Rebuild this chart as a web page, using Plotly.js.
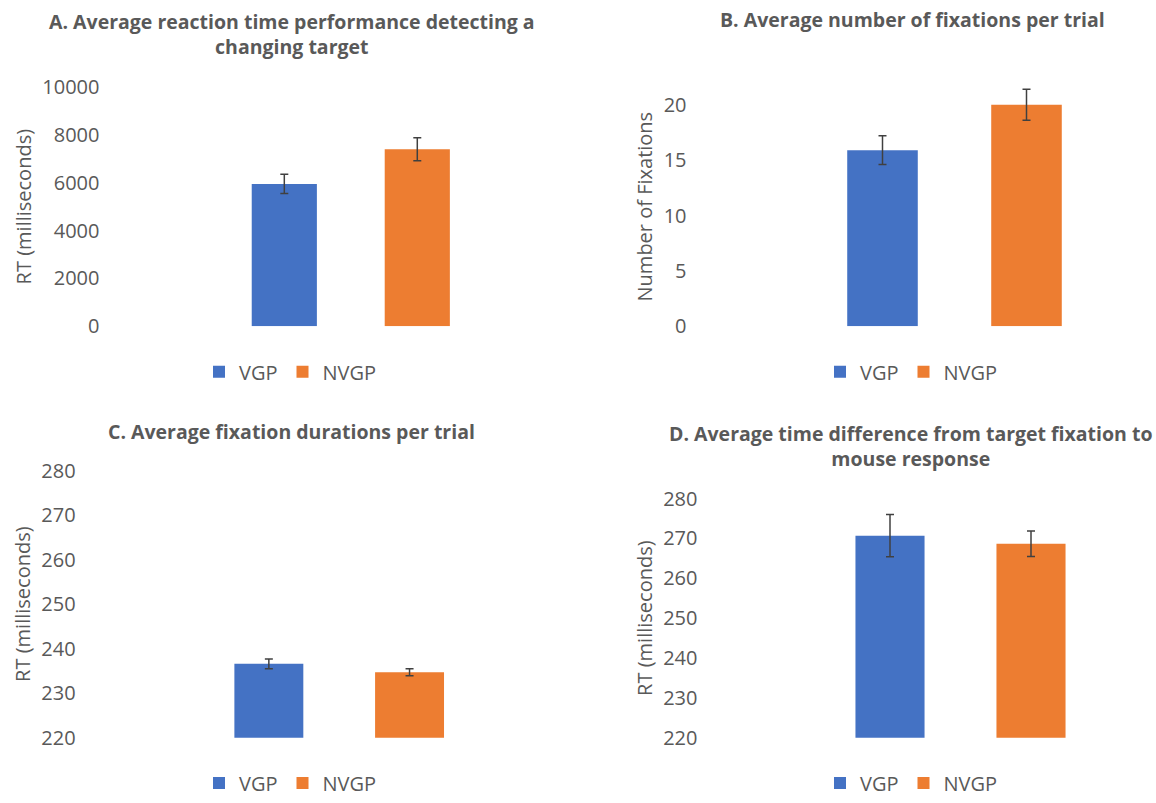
<!DOCTYPE html>
<html>
<head>
<meta charset="utf-8">
<script src="https://cdn.plot.ly/plotly-3.0.1.min.js"></script>
<style>html,body{margin:0;padding:0;background:#fff;}#chart{width:1156px;height:803px;}</style>
</head>
<body>
<div id="chart"></div>
<script>
// ---- data ----
const groups = ['VGP', 'NVGP'];
const category = [''];
// A. Average reaction time (ms)
const rtMean = [5950, 7400];
const rtErr = [400, 480];
// B. Average number of fixations per trial
const fixCount = [15.9, 20.0];
const fixCountErr = [1.3, 1.4];
// C. Average fixation durations per trial (ms)
const fixDur = [236.6, 234.7];
const fixDurErr = [1.1, 0.8];
// D. Average time difference from target fixation to mouse response (ms)
const respDiff = [270.7, 268.7];
const respDiffErr = [5.3, 3.2];

const panelTitles = [
  'A. Average reaction time performance detecting a<br>changing target',
  'B. Average number of fixations per trial',
  'C. Average fixation durations per trial',
  'D. Average time difference from target fixation to<br>mouse response'
];
const yTitles = ['RT (milliseconds)', 'Number of Fixations', 'RT (milliseconds)', 'RT (milliseconds)'];

// ---- styling ----
const W = 1156, H = 803;
const colors = ['#4472C4', '#ED7D31'];
const grey = '#595959';
const FONT = '"Open Sans", sans-serif';
const px = v => v / W;
const py = v => 1 - v / H;

const panels = [
  {means: rtMean, errs: rtErr},
  {means: fixCount, errs: fixCountErr},
  {means: fixDur, errs: fixDurErr},
  {means: respDiff, errs: respDiffErr}
];

const data = [];
panels.forEach((p, i) => {
  const suffix = i === 0 ? '' : String(i + 1);
  groups.forEach((g, j) => {
    data.push({
      type: 'bar',
      name: g,
      x: category,
      y: [p.means[j]],
      xaxis: 'x' + suffix,
      yaxis: 'y' + suffix,
      legend: 'legend' + suffix,
      marker: {color: colors[j]},
      error_y: {type: 'data', array: [p.errs[j]], visible: true, color: '#404040', thickness: 1.5, width: 4},
      hoverinfo: 'skip'
    });
  });
});

// geometry (pixels)
const geom = [
  {x0: 173.5, x1: 528.1, yTop: 88, yBot: 330, range: [0, 10000], dtick: 2000, stand: 73, legX: 199, legY: 376, titleX: 292, titleY: 34.5},
  {x0: 762.5, x1: 1146.5, yTop: 88, yBot: 330, range: [0, 21.6], dtick: 5, stand: 75, legX: 820, legY: 376, titleX: 912, titleY: 20},
  {x0: 151.6, x1: 526.8, yTop: 476, yBot: 746, range: [220, 280], dtick: 10, stand: 75, legX: 199, legY: 792, titleX: 291, titleY: 436},
  {x0: 772.5, x1: 1148.5, yTop: 504.3, yBot: 746, range: [220, 280], dtick: 10, stand: 74, legX: 820, legY: 792, titleX: 911, titleY: 451.5}
];

const layout = {
  width: W, height: H,
  margin: {l: 0, r: 0, t: 0, b: 0},
  paper_bgcolor: '#ffffff',
  plot_bgcolor: '#ffffff',
  font: {family: FONT, color: grey},
  barmode: 'group',
  bargap: 0.25,
  bargroupgap: 0.51,
  annotations: []
};

geom.forEach((g, i) => {
  const suffix = i === 0 ? '' : String(i + 1);
  layout['xaxis' + suffix] = {
    domain: [px(g.x0), px(g.x1)],
    anchor: 'y' + suffix,
    showticklabels: false, showline: false, showgrid: false, zeroline: false, ticks: '',
    fixedrange: true
  };
  layout['yaxis' + suffix] = {
    domain: [py(g.yBot), py(g.yTop)],
    anchor: 'x' + suffix,
    range: g.range,
    dtick: g.dtick,
    tick0: g.range[0],
    tickformat: 'd',
    showgrid: false, zeroline: false, showline: false, ticks: '',
    ticklabelstandoff: g.stand,
    tickfont: {family: FONT, size: 20, color: grey},
    title: {text: yTitles[i], font: {family: FONT, size: 20, color: grey}, standoff: 5},
    fixedrange: true
  };
  layout['legend' + suffix] = {
    orientation: 'h',
    x: px(g.legX), xanchor: 'left',
    y: py(g.legY), yanchor: 'middle',
    font: {family: FONT, size: 20, color: grey},
    bgcolor: 'rgba(0,0,0,0)'
  };
  layout.annotations.push({
    text: '<b>' + panelTitles[i] + '</b>',
    xref: 'paper', yref: 'paper',
    x: px(g.titleX), y: py(g.titleY),
    xanchor: 'center', yanchor: 'middle',
    showarrow: false,
    font: {family: FONT, size: 19.5, color: grey}
  });
});

Plotly.newPlot('chart', data, layout, {displayModeBar: false, staticPlot: true});
</script>
</body>
</html>
